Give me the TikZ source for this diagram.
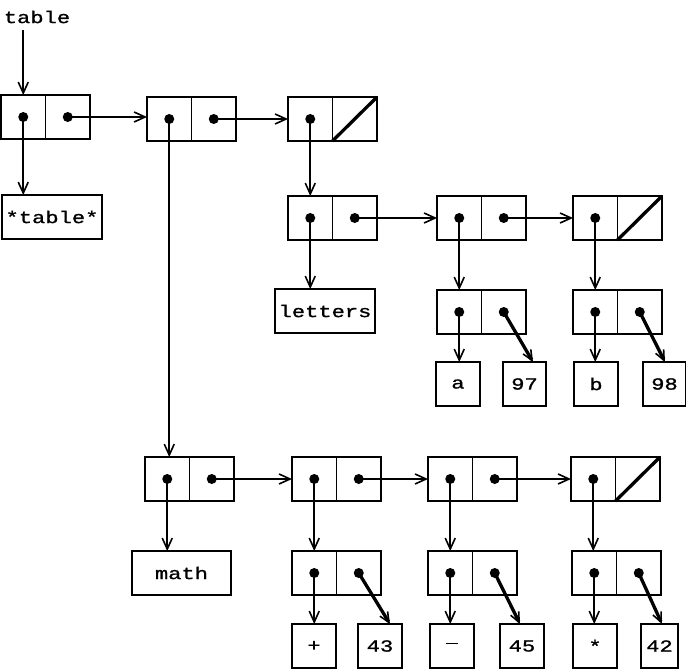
\documentclass[tikz,border=0pt]{standalone}
\usepackage{fontspec}
\newfontfamily\cellfont[FakeStretch=1.3,FakeBold=1.2]{Liberation Mono}
\usetikzlibrary{arrows.meta,calc}
\begin{document}
\begin{tikzpicture}[x=1pt,y=-1pt,
  half/.style={draw,line width=1.8pt,minimum width=44.5pt,minimum height=44pt,inner sep=0pt,outer sep=0pt},
  atom/.style={draw,line width=1.8pt,minimum height=44pt,inner sep=0pt,outer sep=0pt,anchor=north west,font=\cellfont\fontsize{17}{17}\selectfont},
  sym/.style={atom,minimum width=44pt},
  ptr/.style={line width=1.8pt,-{Straight Barb[length=11pt,width=10pt,line width=1.6pt]}},
  cdrptr/.style={line width=3.3pt,-{Straight Barb[length=10pt,width=9pt,line width=1.6pt]}},
  nil/.style={line width=3.3pt},
  dot/.style={fill=black}]
\useasboundingbox (0,0) rectangle (686,669);
% cons cell macro: name, x, y (north west)
\newcommand\mycell[3]{%
  \node[half,anchor=north west] (#1a) at (#2,#3) {};
  \node[half,anchor=west] (#1d) at (#1a.east) {};
}
% top row
\node[font=\cellfont\fontsize{17}{17}\selectfont,inner sep=0pt] (lbl) at (37,17) {table};
\mycell{T1}{1}{95}
\mycell{T2}{147}{97}
\mycell{T3}{288}{97}
\node[atom,minimum width=100pt] (tbl) at (2,195) {*table*};
% letters
\mycell{L1}{288}{196}
\mycell{L2}{437}{196}
\mycell{L3}{573}{196}
\node[atom,minimum width=100pt] (let) at (275,289) {letters};
\mycell{PA}{437}{290}
\mycell{PB}{573}{290}
\node[sym] (a) at (436,362) {a};
\node[atom,minimum width=43pt] (n97) at (503,362) {97};
\node[sym] (b) at (574,362) {b};
\node[atom,minimum width=43pt] (n98) at (643,362) {98};
% math
\mycell{M1}{145}{457}
\mycell{M2}{292}{457}
\mycell{M3}{428}{457}
\mycell{M4}{571}{457}
\node[atom,minimum width=99pt] (mth) at (132,551) {math};
\mycell{Q1}{292}{551}
\mycell{Q2}{428}{551}
\mycell{Q3}{572}{551}
\node[sym] (plus) at (292,624) {+};
\node[atom,minimum width=44pt] (n43) at (358,624) {43};
\node[sym] (minus) at (430,624) {\rule[0.28em]{0.75em}{1.6pt}};
\node[atom,minimum width=44pt] (n45) at (500,624) {45};
\node[sym] (star) at (573,624) {*};
\node[atom,minimum width=37pt] (n42) at (641,624) {42};
% nil slashes
\foreach \c in {T3,L3,M4} \draw[nil] (\c d.south west) -- (\c d.north east);
% dots
\foreach \c in {T1a,T1d,T2a,T2d,T3a,L1a,L1d,L2a,L2d,L3a,PAa,PAd,PBa,PBd,M1a,M1d,M2a,M2d,M3a,M3d,M4a,Q1a,Q1d,Q2a,Q2d,Q3a,Q3d}
  \fill[dot] (\c.center) circle[radius=5pt];
% pointers
\draw[ptr] (T1a.center |- lbl.south) ++(0,7) -- (T1a.north);
\draw[ptr] (T1a.center) -- (T1a.center |- tbl.north);
\draw[ptr] (T1d.center) -- (T1d.center -| T2a.west);
\draw[ptr] (T2d.center) -- (T2d.center -| T3a.west);
\draw[ptr] (T2a.center) -- (T2a.center |- M1a.north);
\draw[ptr] (T3a.center) -- (T3a.center |- L1a.north);
\draw[ptr] (L1a.center) -- (L1a.center |- let.north);
\draw[ptr] (L1d.center) -- (L1d.center -| L2a.west);
\draw[ptr] (L2d.center) -- (L2d.center -| L3a.west);
\draw[ptr] (L2a.center) -- (L2a.center |- PAa.north);
\draw[ptr] (L3a.center) -- (L3a.center |- PBa.north);
\draw[ptr] (PAa.center) -- (PAa.center |- a.north);
\draw[ptr] (PBa.center) -- (PBa.center |- b.north);
\draw[cdrptr] (PAd.center) -- ($(n97.north west)+(30,0)$);
\draw[cdrptr] (PBd.center) -- ($(n98.north west)+(22,0)$);
\draw[ptr] (M1a.center) -- (M1a.center |- mth.north);
\draw[ptr] (M1d.center) -- (M1d.center -| M2a.west);
\draw[ptr] (M2d.center) -- (M2d.center -| M3a.west);
\draw[ptr] (M3d.center) -- (M3d.center -| M4a.west);
\draw[ptr] (M2a.center) -- (M2a.center |- Q1a.north);
\draw[ptr] (M3a.center) -- (M3a.center |- Q2a.north);
\draw[ptr] (M4a.center) -- (M4a.center |- Q3a.north);
\draw[ptr] (Q1a.center) -- (Q1a.center |- plus.north);
\draw[ptr] (Q2a.center) -- (Q2a.center |- minus.north);
\draw[ptr] (Q3a.center) -- (Q3a.center |- star.north);
\draw[cdrptr] (Q1d.center) -- ($(n43.north west)+(32,0)$);
\draw[cdrptr] (Q2d.center) -- ($(n45.north west)+(20,0)$);
\draw[cdrptr] (Q3d.center) -- ($(n42.north west)+(21,0)$);
\end{tikzpicture}
\end{document}
